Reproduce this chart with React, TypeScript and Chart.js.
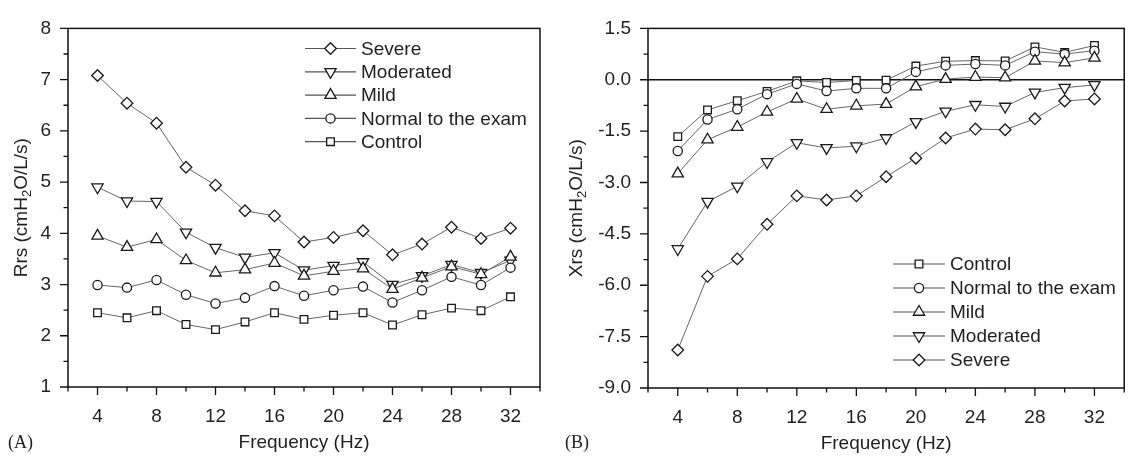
import React, { useEffect, useRef } from 'react';
import { Chart, registerables } from 'chart.js';

Chart.register(...registerables);

// ---------- data ----------
const FREQUENCY = [4, 6, 8, 10, 12, 14, 16, 18, 20, 22, 24, 26, 28, 30, 32];

const RRS_SEVERE = [7.08, 6.54, 6.15, 5.29, 4.94, 4.44, 4.34, 3.83, 3.92, 4.05, 3.58, 3.79, 4.12, 3.9, 4.1];
const RRS_MODERATED = [4.9, 4.63, 4.62, 4.02, 3.72, 3.53, 3.62, 3.28, 3.37, 3.44, 3.0, 3.17, 3.39, 3.23, 3.47];
const RRS_MILD = [3.95, 3.73, 3.88, 3.47, 3.23, 3.29, 3.42, 3.17, 3.26, 3.31, 2.91, 3.13, 3.35, 3.2, 3.54];
const RRS_NORMAL = [2.99, 2.94, 3.09, 2.8, 2.63, 2.74, 2.97, 2.78, 2.89, 2.96, 2.65, 2.89, 3.15, 2.99, 3.33];
const RRS_CONTROL = [2.45, 2.35, 2.49, 2.22, 2.12, 2.27, 2.45, 2.32, 2.4, 2.45, 2.21, 2.41, 2.54, 2.49, 2.76];

const XRS_CONTROL = [-1.66, -0.88, -0.61, -0.34, -0.03, -0.08, -0.02, -0.01, 0.4, 0.54, 0.56, 0.55, 0.96, 0.8, 1.0];
const XRS_NORMAL = [-2.08, -1.16, -0.86, -0.42, -0.12, -0.33, -0.25, -0.25, 0.23, 0.42, 0.46, 0.42, 0.82, 0.75, 0.85];
const XRS_MILD = [-2.74, -1.75, -1.38, -0.94, -0.56, -0.86, -0.76, -0.71, -0.2, 0.02, 0.08, 0.06, 0.55, 0.5, 0.64];
const XRS_MODERATED = [-4.94, -3.56, -3.11, -2.4, -1.84, -1.99, -1.94, -1.7, -1.23, -0.92, -0.73, -0.78, -0.37, -0.23, -0.15];
const XRS_SEVERE = [-7.89, -5.74, -5.23, -4.22, -3.39, -3.51, -3.39, -2.83, -2.29, -1.7, -1.44, -1.46, -1.14, -0.62, -0.56];

const X_TICKS = [4, 8, 12, 16, 20, 24, 28, 32];
const X_MINOR_TICKS = [2, 6, 10, 14, 18, 22, 26, 30, 34];
const RRS_TICKS = [1, 2, 3, 4, 5, 6, 7, 8];
const RRS_MINOR_TICKS = [1.5, 2.5, 3.5, 4.5, 5.5, 6.5, 7.5];
const XRS_TICKS = [-9, -7.5, -6, -4.5, -3, -1.5, 0, 1.5];
const XRS_MINOR_TICKS = [-8.25, -6.75, -5.25, -3.75, -2.25, -0.75, 0.75];

const LABEL_SEVERE = 'Severe';
const LABEL_MODERATED = 'Moderated';
const LABEL_MILD = 'Mild';
const LABEL_NORMAL = 'Normal to the exam';
const LABEL_CONTROL = 'Control';

// ---------- styles ----------
const FONT = "'Liberation Sans', Arial, Helvetica, sans-serif";
const TEXT = '#231f20';
const MARKERS: Record<string, { style: string; rot: number; r: number }> = {
  [LABEL_SEVERE]: { style: 'rectRot', rot: 0, r: 5.8 },
  [LABEL_MODERATED]: { style: 'triangle', rot: 180, r: 6.5 },
  [LABEL_MILD]: { style: 'triangle', rot: 0, r: 6.5 },
  [LABEL_NORMAL]: { style: 'circle', rot: 0, r: 4.6 },
  [LABEL_CONTROL]: { style: 'rect', rot: 0, r: 5.4 },
};

function drawMarker(ctx: CanvasRenderingContext2D, style: string, rot: number, x: number, y: number, r: number) {
  ctx.beginPath();
  if (style === 'circle') {
    ctx.arc(x, y, r, 0, Math.PI * 2);
  } else if (style === 'rect') {
    const s = r * Math.SQRT1_2;
    ctx.rect(x - s, y - s, 2 * s, 2 * s);
  } else if (style === 'rectRot') {
    ctx.moveTo(x - r, y);
    ctx.lineTo(x, y - r);
    ctx.lineTo(x + r, y);
    ctx.lineTo(x, y + r);
    ctx.closePath();
  } else {
    let a = (rot * Math.PI) / 180;
    ctx.moveTo(x + Math.sin(a) * r, y - Math.cos(a) * r);
    a += (2 * Math.PI) / 3;
    ctx.lineTo(x + Math.sin(a) * r, y - Math.cos(a) * r);
    a += (2 * Math.PI) / 3;
    ctx.lineTo(x + Math.sin(a) * r, y - Math.cos(a) * r);
    ctx.closePath();
  }
  ctx.fillStyle = '#fff';
  ctx.fill();
  ctx.lineWidth = 1.3;
  ctx.strokeStyle = '#1a1a1a';
  ctx.stroke();
}

type Seg = { t: string; sub?: boolean };

function drawRich(ctx: CanvasRenderingContext2D, segs: Seg[], cx: number, cy: number, size: number, rotated: boolean) {
  ctx.save();
  ctx.translate(cx, cy);
  if (rotated) ctx.rotate(-Math.PI / 2);
  ctx.fillStyle = TEXT;
  ctx.textBaseline = 'middle';
  ctx.textAlign = 'left';
  const subSize = Math.round(size * 0.68);
  let total = 0;
  for (const s of segs) {
    ctx.font = `${s.sub ? subSize : size}px ${FONT}`;
    total += ctx.measureText(s.t).width;
  }
  let x = -total / 2;
  for (const s of segs) {
    ctx.font = `${s.sub ? subSize : size}px ${FONT}`;
    ctx.fillText(s.t, x, s.sub ? size * 0.3 : 0);
    x += ctx.measureText(s.t).width;
  }
  ctx.restore();
}

type PanelSpec = {
  id: string;
  left: number;
  width: number;
  height: number;
  padding: { top: number; right: number; left: number; bottom: number };
  yAxisWidth: number;
  xAxisHeight: number;
  yMin: number;
  yMax: number;
  yTicks: number[];
  yMinorTicks: number[];
  yFormat: (v: number) => string;
  series: { label: string; values: number[] }[];
  legendOrder: string[];
  legend: { x0: number; x1: number; tx: number; y0: number; dy: number };
  yTitle: Seg[];
  yTitleX: number;
  xTitleY: number;
  zeroLine: boolean;
};

function decorPlugin(p: PanelSpec) {
  return {
    id: 'decor_' + p.id,
    beforeDatasetsDraw(chart: any) {
      if (!p.zeroLine) return;
      const { ctx, chartArea } = chart;
      const y0 = chart.scales.y.getPixelForValue(0);
      ctx.save();
      ctx.strokeStyle = '#111';
      ctx.lineWidth = 1.5;
      ctx.beginPath();
      ctx.moveTo(chartArea.left, y0);
      ctx.lineTo(chartArea.right, y0);
      ctx.stroke();
      ctx.restore();
    },
    afterDraw(chart: any) {
      const { ctx, chartArea } = chart;
      const xs = chart.scales.x;
      const ys = chart.scales.y;
      ctx.save();
      // frame
      ctx.strokeStyle = '#111';
      ctx.lineWidth = 1.5;
      ctx.strokeRect(chartArea.left, chartArea.top, chartArea.right - chartArea.left, chartArea.bottom - chartArea.top);
      // ticks
      ctx.lineWidth = 1.3;
      ctx.beginPath();
      const tick = (vals: number[], len: number, horiz: boolean) => {
        for (const v of vals) {
          if (horiz) {
            const px = xs.getPixelForValue(v);
            ctx.moveTo(px, chartArea.bottom);
            ctx.lineTo(px, chartArea.bottom + len);
          } else {
            const py = ys.getPixelForValue(v);
            ctx.moveTo(chartArea.left, py);
            ctx.lineTo(chartArea.left - len, py);
          }
        }
      };
      tick(X_TICKS, 8, true);
      tick(X_MINOR_TICKS, 4.5, true);
      tick(p.yTicks, 8, false);
      tick(p.yMinorTicks, 4.5, false);
      ctx.stroke();
      // legend
      p.legendOrder.forEach((label, i) => {
        const y = p.legend.y0 + i * p.legend.dy;
        const m = MARKERS[label];
        ctx.strokeStyle = '#555';
        ctx.lineWidth = 1.2;
        ctx.beginPath();
        ctx.moveTo(p.legend.x0, y);
        ctx.lineTo(p.legend.x1, y);
        ctx.stroke();
        drawMarker(ctx, m.style, m.rot, (p.legend.x0 + p.legend.x1) / 2, y, m.r);
        ctx.fillStyle = TEXT;
        ctx.font = `19px ${FONT}`;
        ctx.textAlign = 'left';
        ctx.textBaseline = 'middle';
        ctx.fillText(label, p.legend.tx, y + 1);
      });
      ctx.restore();
      // axis titles
      drawRich(ctx, [{ t: 'Frequency (Hz)' }], (chartArea.left + chartArea.right) / 2, p.xTitleY, 19, false);
      drawRich(ctx, p.yTitle, p.yTitleX, (chartArea.top + chartArea.bottom) / 2, 19, true);
    },
  };
}

function buildConfig(p: PanelSpec): any {
  const tickFont = { family: FONT, size: 19 };
  return {
    type: 'line',
    data: {
      datasets: p.series.map((s) => {
        const m = MARKERS[s.label];
        return {
          label: s.label,
          data: FREQUENCY.map((f, i) => ({ x: f, y: s.values[i] })),
          borderColor: '#666',
          borderWidth: 1,
          pointStyle: m.style,
          pointRotation: m.rot,
          pointRadius: m.r,
          pointBackgroundColor: '#fff',
          pointBorderColor: '#1a1a1a',
          pointBorderWidth: 1.3,
          tension: 0,
          fill: false,
        };
      }),
    },
    options: {
      responsive: false,
      maintainAspectRatio: false,
      animation: false,
      events: [],
      layout: { padding: p.padding },
      plugins: { legend: { display: false }, tooltip: { enabled: false }, title: { display: false } },
      scales: {
        x: {
          type: 'linear',
          min: 2,
          max: 34,
          grid: { display: false, drawTicks: false },
          border: { display: false },
          afterBuildTicks: (s: any) => {
            s.ticks = X_TICKS.map((v) => ({ value: v }));
          },
          afterFit: (s: any) => {
            s.height = p.xAxisHeight;
          },
          ticks: {
            font: tickFont,
            color: TEXT,
            padding: 18,
            autoSkip: false,
            maxRotation: 0,
            callback: (v: any) => String(v),
          },
        },
        y: {
          type: 'linear',
          min: p.yMin,
          max: p.yMax,
          grid: { display: false, drawTicks: false },
          border: { display: false },
          afterBuildTicks: (s: any) => {
            s.ticks = p.yTicks.map((v) => ({ value: v }));
          },
          afterFit: (s: any) => {
            s.width = p.yAxisWidth;
          },
          ticks: {
            font: tickFont,
            color: TEXT,
            padding: 17,
            autoSkip: false,
            callback: (v: any) => p.yFormat(Number(v)),
          },
        },
      },
    },
    plugins: [decorPlugin(p)],
  };
}

const PANEL_A: PanelSpec = {
  id: 'A',
  left: 0,
  width: 560,
  height: 458,
  padding: { top: 22, right: 20, left: 0, bottom: 0 },
  yAxisWidth: 68,
  xAxisHeight: 71,
  yMin: 1,
  yMax: 8,
  yTicks: RRS_TICKS,
  yMinorTicks: RRS_MINOR_TICKS,
  yFormat: (v) => String(v),
  series: [
    { label: LABEL_CONTROL, values: RRS_CONTROL },
    { label: LABEL_NORMAL, values: RRS_NORMAL },
    { label: LABEL_MILD, values: RRS_MILD },
    { label: LABEL_MODERATED, values: RRS_MODERATED },
    { label: LABEL_SEVERE, values: RRS_SEVERE },
  ],
  legendOrder: [LABEL_SEVERE, LABEL_MODERATED, LABEL_MILD, LABEL_NORMAL, LABEL_CONTROL],
  legend: { x0: 305, x1: 356, tx: 361, y0: 48.5, dy: 23.3 },
  yTitle: [{ t: 'Rrs (cmH' }, { t: '2', sub: true }, { t: 'O/L/s)' }],
  yTitleX: 22,
  xTitleY: 443,
  zeroLine: false,
};

const PANEL_B: PanelSpec = {
  id: 'B',
  left: 560,
  width: 572,
  height: 458,
  padding: { top: 16, right: 2, left: 0, bottom: 0 },
  yAxisWidth: 88,
  xAxisHeight: 70,
  yMin: -9,
  yMax: 1.5,
  yTicks: XRS_TICKS,
  yMinorTicks: XRS_MINOR_TICKS,
  yFormat: (v) => v.toFixed(1),
  series: [
    { label: LABEL_SEVERE, values: XRS_SEVERE },
    { label: LABEL_MODERATED, values: XRS_MODERATED },
    { label: LABEL_MILD, values: XRS_MILD },
    { label: LABEL_NORMAL, values: XRS_NORMAL },
    { label: LABEL_CONTROL, values: XRS_CONTROL },
  ],
  legendOrder: [LABEL_CONTROL, LABEL_NORMAL, LABEL_MILD, LABEL_MODERATED, LABEL_SEVERE],
  legend: { x0: 333, x1: 385, tx: 390, y0: 264, dy: 24 },
  yTitle: [{ t: 'Xrs (cmH' }, { t: '2', sub: true }, { t: 'O/L/s)' }],
  yTitleX: 17,
  xTitleY: 444,
  zeroLine: true,
};

function Panel({ spec }: { spec: PanelSpec }) {
  const ref = useRef<HTMLCanvasElement>(null);
  useEffect(() => {
    if (!ref.current) return;
    const chart = new Chart(ref.current, buildConfig(spec));
    return () => chart.destroy();
  }, [spec]);
  return (
    <canvas
      ref={ref}
      width={spec.width}
      height={spec.height}
      style={{ position: 'absolute', left: spec.left, top: 0, width: spec.width, height: spec.height, display: 'block' }}
    />
  );
}

const panelLabel: React.CSSProperties = {
  position: 'absolute',
  top: 433,
  fontFamily: "'Liberation Serif', 'Times New Roman', serif",
  fontSize: 18,
  lineHeight: '18px',
  color: TEXT,
};

export default function App() {
  return (
    <div style={{ position: 'absolute', left: 0, top: 0, width: 1132, height: 458, background: '#fff', overflow: 'hidden' }}>
      <Panel spec={PANEL_A} />
      <Panel spec={PANEL_B} />
      <div style={{ ...panelLabel, left: 8 }}>(A)</div>
      <div style={{ ...panelLabel, left: 565 }}>(B)</div>
    </div>
  );
}
